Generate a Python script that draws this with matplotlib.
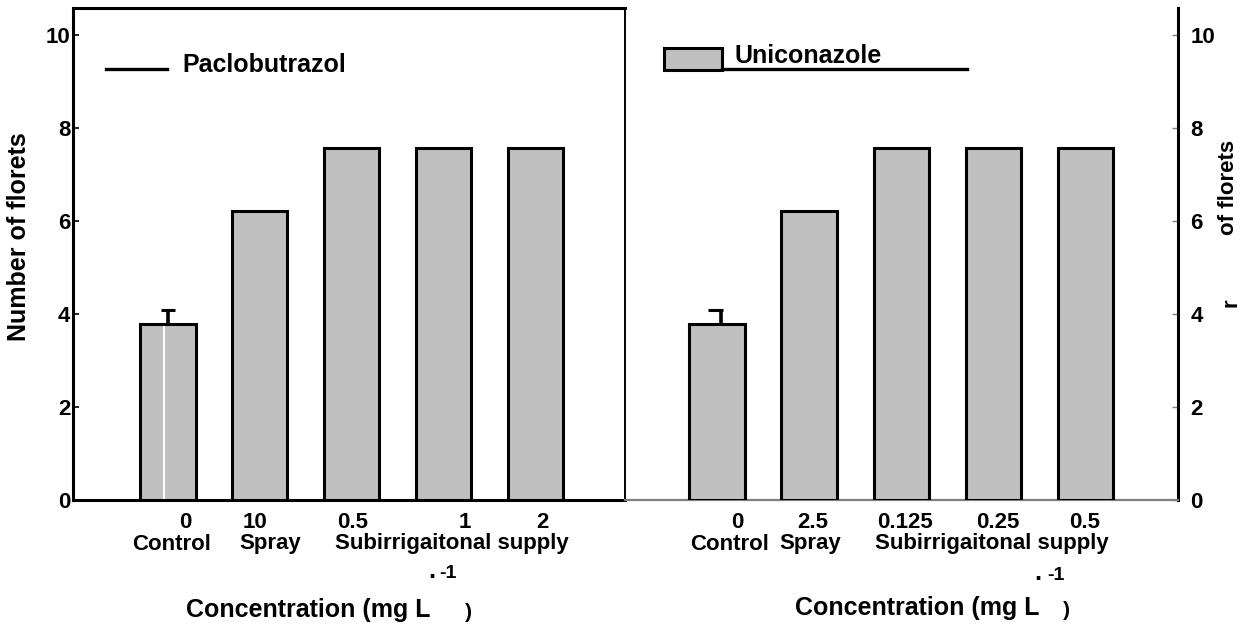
import matplotlib
matplotlib.use("Agg")
import matplotlib.pyplot as plt
from matplotlib.patches import Rectangle
from matplotlib.lines import Line2D

plt.rcParams['font.family'] = ['Liberation Sans', 'DejaVu Sans']
plt.rcParams['font.weight'] = 'bold'

# ---------------- data ----------------
pac_doses = ["0", "10", "0.5", "1", "2"]
uni_doses = ["0", "2.5", "0.125", "0.25", "0.5"]
groups = ["Control", "Spray", "Subirrigaitonal supply"]
pac_values = [3.78, 6.21, 7.57, 7.57, 7.57]
uni_values = [3.78, 6.21, 7.57, 7.57, 7.57]
pac_err = [0.31, 0, 0, 0, 0]
uni_err = [0.31, 0, 0, 0, 0]
yticks = [0, 2, 4, 6, 8, 10]

# ---------------- layout ----------------
W, H = 1244, 632
fig = plt.figure(figsize=(W / 100, H / 100), dpi=100)

def fx(px):
    return px / W

def fy(py):
    return 1 - py / H

axL = fig.add_axes([fx(73), fy(500), fx(625) - fx(73), fy(8) - fy(500)])
axR = fig.add_axes([fx(625), fy(500), fx(1178) - fx(625), fy(8) - fy(500)])

BAR = '#c0c0c0'
xs = list(range(len(pac_values)))

for ax, vals in ((axL, pac_values), (axR, uni_values)):
    ax.bar(xs, vals, width=0.6, color=BAR, edgecolor='black', linewidth=2.2, zorder=3)
    ax.set_ylim(0, 10.58)
    ax.set_xticks([])
    ax.set_yticks(yticks)
    ax.set_facecolor('none')

axL.set_xlim(-1.035, 4.98)
axR.set_xlim(-0.997, 5.0)

# white artifact line inside first bar (left panel)
axL.vlines(xs[0] - 0.045, 0.03, pac_values[0] - 0.04, color='white', lw=1.5, zorder=4)

# error bars
axL.errorbar(xs[0], pac_values[0], yerr=[[0], [pac_err[0]]], fmt='none',
             ecolor='black', elinewidth=2.6, capsize=4.7, capthick=2.2, zorder=2)
axR.vlines(xs[0] + 0.045, uni_values[0], uni_values[0] + uni_err[0],
           color='black', lw=2.6, zorder=2)
axR.hlines(uni_values[0] + uni_err[0], xs[0] - 0.1, xs[0] + 0.065,
           color='black', lw=2.2, zorder=2)

# spines
for s in ('left', 'top', 'bottom'):
    axL.spines[s].set_linewidth(2.2)
axL.spines['right'].set_linewidth(1.4)
axR.spines['left'].set_visible(False)
axR.spines['top'].set_visible(False)
axR.spines['bottom'].set_color('#808080')
axR.spines['bottom'].set_linewidth(1.6)
axR.spines['right'].set_linewidth(2.2)

axL.tick_params(axis='y', direction='in', length=4, width=1.2, pad=2,
                labelsize=16, colors='black')
axR.yaxis.tick_right()
axR.tick_params(axis='y', direction='in', length=4, width=1.0, pad=9,
                labelsize=16, color='#808080', labelcolor='black')
for ax in (axL, axR):
    for lab in ax.get_yticklabels():
        lab.set_fontweight('bold')

# dose labels and group labels
pac_dose_pos = [0.186, 0.949, 2.017, 3.237, 4.076]
uni_dose_pos = [0.217, 1.041, 2.038, 3.046, 3.99]
pac_group_pos = [0.044, 1.112, 3.096]
uni_group_pos = [0.141, 1.008, 2.981]
y_dose = (500 - 522) / 492
y_group = (500 - 544) / 492

for ax, doses, dpos, gpos in ((axL, pac_doses, pac_dose_pos, pac_group_pos),
                              (axR, uni_doses, uni_dose_pos, uni_group_pos)):
    tr = ax.get_xaxis_transform()
    for d, p in zip(doses, dpos):
        ax.text(p, y_dose, d, transform=tr, ha='center', va='center',
                fontsize=16, fontweight='bold', clip_on=False)
    for g, p in zip(groups, gpos):
        ax.text(p, y_group, g, transform=tr, ha='center', va='center',
                fontsize=16, fontweight='bold', clip_on=False)

# x axis labels
fig.text(fx(186), fy(610), "Concentration (mg L", ha='left', va='center',
         fontsize=18, fontweight='bold')
fig.text(fx(432), fy(571), ".", ha='center', va='center', fontsize=18, fontweight='bold')
fig.text(fx(448), fy(574), "-1", ha='center', va='center', fontsize=14, fontweight='bold')
fig.text(fx(468), fy(612), ")", ha='center', va='center', fontsize=15, fontweight='bold')

fig.text(fx(795), fy(608), "Concentration (mg L", ha='left', va='center',
         fontsize=18, fontweight='bold')
fig.text(fx(1038), fy(573), ".", ha='center', va='center', fontsize=18, fontweight='bold')
fig.text(fx(1056), fy(576), "-1", ha='center', va='center', fontsize=14, fontweight='bold')
fig.text(fx(1066), fy(610), ")", ha='center', va='center', fontsize=15, fontweight='bold')

# y labels
fig.text(fx(19), fy(237), "Number of florets", rotation=90, ha='center', va='center',
         fontsize=18, fontweight='bold')
fig.text(fx(1229), fy(187), "of florets", rotation=90, ha='center', va='center',
         fontsize=16, fontweight='bold')
fig.text(fx(1231), fy(303), "r", rotation=90, ha='center', va='center',
         fontsize=16, fontweight='bold')

# legends (drawn manually)
axL.add_line(Line2D([(106 - 73) / 552, (167 - 73) / 552], [0.876, 0.876],
                    transform=axL.transAxes, color='black', lw=2.4))
axL.text((182 - 73) / 552, 0.884, "Paclobutrazol", transform=axL.transAxes,
         ha='left', va='center', fontsize=18, fontweight='bold')

x0 = (664 - 625) / 553
x1 = (722 - 625) / 553
axR.add_patch(Rectangle((x0, 0.874), x1 - x0, 0.045, transform=axR.transAxes,
                        facecolor=BAR, edgecolor='black', lw=2.2, clip_on=False))
axR.add_line(Line2D([x1, (967 - 625) / 553], [0.876, 0.876],
                    transform=axR.transAxes, color='black', lw=2.4))
axR.text((735 - 625) / 553, 0.902, "Uniconazole", transform=axR.transAxes,
         ha='left', va='center', fontsize=18, fontweight='bold')

fig.savefig("out.png", dpi=100)
